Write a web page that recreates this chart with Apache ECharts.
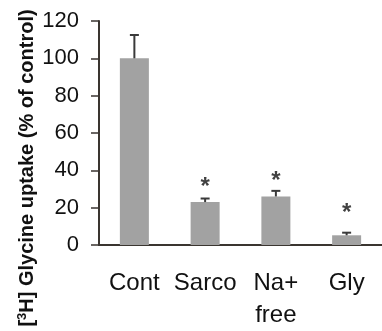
<!DOCTYPE html>
<html><head><meta charset="utf-8">
<script src="https://cdn.jsdelivr.net/npm/echarts@6/dist/echarts.min.js"></script>
<style>html,body{margin:0;padding:0;background:#fff}#c{width:382px;height:331px}</style>
</head><body><div id="c"></div>
<script>
const categories = ['Cont', 'Sarco', 'Na+\nfree', 'Gly'];
const values = [100, 23, 26, 5.2];
const errors = [12.5, 1.9, 3, 1.4];
const starPositions = [null, 34, 37.5, 20];
const yTicks = [0, 20, 40, 60, 80, 100, 120];

const chart = echarts.init(document.getElementById('c'));
const font = '"Liberation Sans", Arial, sans-serif';
chart.setOption({
  animation: false,
  grid: { left: 99, top: 21, bottom: 79, right: -7 },
  xAxis: {
    type: 'category', data: categories,
    axisLine: { lineStyle: { color: '#3a3530', width: 2 } },
    axisTick: { show: false },
    axisLabel: { interval: 0, fontFamily: font, fontSize: 24, color: '#111', margin: 22, lineHeight: 32 }
  },
  yAxis: {
    type: 'value', min: yTicks[0], max: yTicks[yTicks.length - 1], interval: 20,
    splitLine: { show: false },
    axisLine: { show: true, lineStyle: { color: '#3a3530', width: 2 } },
    axisTick: { show: true, length: 8, lineStyle: { color: '#3a3530', width: 1.5 } },
    axisLabel: { fontFamily: font, fontSize: 22, color: '#111', margin: 20, padding: [6, 0, 0, 0] }
  },
  series: [
    {
      type: 'bar', data: values, barWidth: 29,
      itemStyle: { color: '#a2a2a2' }, z: 2
    },
    {
      type: 'custom', z: 3,
      data: values.map((v, i) => [i, v, v + errors[i]]),
      renderItem: function (params, api) {
        const p0 = api.coord([api.value(0), api.value(1)]);
        const p1 = api.coord([api.value(0), api.value(2)]);
        const hw = 4.5;
        return {
          type: 'group', children: [
            { type: 'line', shape: { x1: p0[0], y1: p0[1], x2: p1[0], y2: p1[1] }, style: { stroke: '#3a3a3a', lineWidth: 2 } },
            { type: 'line', shape: { x1: p1[0] - hw, y1: p1[1], x2: p1[0] + hw, y2: p1[1] }, style: { stroke: '#3a3a3a', lineWidth: 2 } }
          ]
        };
      }
    },
    {
      type: 'scatter', symbolSize: 0,
      data: starPositions.map((v, i) => v == null ? null : [i, v]).filter(d => d),
      label: { show: true, position: 'inside', formatter: '*', fontFamily: font, fontSize: 24, fontWeight: 'bold', color: '#111', offset: [0, 6] }
    }
  ],
  graphic: [{
    type: 'text', x: 27, y: 168, rotation: Math.PI / 2,
    style: {
      text: '{a|[}{s|3}{a|H] Glycine uptake (% of control)}',
      align: 'center', verticalAlign: 'middle',
      rich: {
        a: { fontFamily: font, fontSize: 20, fontWeight: 'bold', fill: '#111' },
        s: { fontFamily: font, fontSize: 13, fontWeight: 'bold', fill: '#111', verticalAlign: 'top', padding: [0, 0, 9, 0] }
      }
    }
  }]
});
</script></body></html>
